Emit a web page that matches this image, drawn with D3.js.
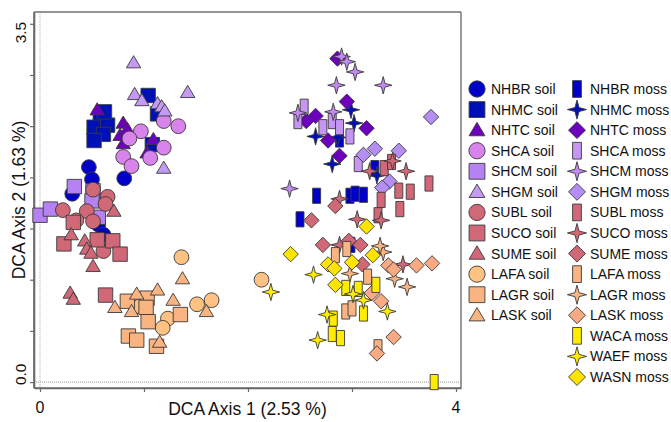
<!DOCTYPE html>
<html><head><meta charset="utf-8">
<script src="https://cdn.jsdelivr.net/npm/d3@7"></script>
<style>
html,body{margin:0;padding:0;background:#fff;}
svg{display:block;font-family:"Liberation Sans",Arial,sans-serif;}
</style></head>
<body>
<svg id="chart" width="671" height="422"></svg>
<script>
// ---------- data (DCA axis 1, DCA axis 2) ----------
const NHBR_soil = [[0.47,2.10],[0.50,1.98],[0.81,1.99],[0.31,1.84],[0.56,1.54],[0.61,1.44]];
const NHMC_soil = [[1.04,2.80],[1.13,2.62],[0.58,2.59],[0.52,2.49],[0.65,2.51],[0.61,2.42],[0.52,2.36],[1.08,2.32],[0.62,2.64]];
const NHTC_soil = [[0.55,2.66],[0.80,2.53],[0.77,2.41],[0.80,2.33],[0.84,2.47],[1.09,2.37],[1.03,2.24]];
const SHCA_soil = [[1.19,2.55],[1.33,2.50],[0.97,2.45],[0.86,2.38],[1.19,2.29],[0.80,2.20],[1.06,2.19],[0.88,2.11]];
const SHCM_soil = [[0.33,1.91],[0.51,1.87],[0.50,1.77],[0.00,1.63],[0.10,1.69],[0.56,1.61]];
const SHGM_soil = [[0.90,3.12],[0.91,2.81],[0.98,2.75],[1.13,2.72],[1.17,2.69],[1.20,2.65],[1.42,2.83],[1.19,2.09]];
const SUBL_soil = [[0.51,1.88],[0.65,1.81],[0.63,1.74],[0.22,1.68],[0.45,1.67],[0.35,1.58],[0.51,1.57],[0.61,1.28]];
const SUCO_soil = [[0.32,1.56],[0.23,1.35],[0.55,1.39],[0.70,1.38],[0.77,1.25],[0.63,0.85]];
const SUME_soil = [[0.71,1.67],[0.30,1.44],[0.43,1.38],[0.45,1.30],[0.49,1.26],[0.51,1.13],[0.29,0.87],[0.32,0.81]];
const LAFA_soil = [[1.36,1.22],[1.51,0.76],[1.65,0.80],[1.23,0.62],[1.18,0.53],[2.13,1.00],[0.96,0.74]];
const LAGR_soil = [[0.84,0.79],[1.03,0.82],[1.02,0.73],[1.04,0.59],[1.35,0.66],[0.85,0.45],[0.93,0.41],[1.12,0.35]];
const LASK_soil = [[1.37,1.01],[1.13,0.90],[0.93,0.86],[0.72,0.73],[0.88,0.69],[1.28,0.80],[1.60,0.69],[1.15,0.39]];

const NHBR_moss = [[2.66,1.82],[2.98,1.82],[3.03,1.84],[3.11,1.83],[2.50,1.59],[2.88,2.37],[2.99,1.34],[3.22,2.09]];
const NHMC_moss = [[2.99,2.66],[3.02,2.53],[2.65,2.40],[2.86,2.39],[2.81,2.13],[3.24,2.02]];
const NHTC_moss = [[2.86,3.16],[2.95,2.74],[2.65,2.60],[2.56,2.55],[3.14,2.48],[2.77,2.36],[2.88,2.21]];
const SHCA_moss = [[2.54,2.69],[2.48,2.55],[2.72,2.49],[2.81,2.55],[2.88,2.49],[2.98,2.40],[3.06,2.13]];
const SHCM_moss = [[2.90,3.18],[2.95,3.13],[3.03,3.03],[2.85,2.90],[3.30,2.90],[2.48,2.63],[2.82,2.64],[2.40,1.89]];
const SHGM_moss = [[3.76,2.59],[3.11,2.22],[3.22,2.28],[3.45,2.26],[3.36,1.96],[3.29,1.90]];
const SUBL_moss = [[3.31,2.09],[3.38,2.15],[3.74,1.94],[3.45,1.87],[3.56,1.86],[3.46,1.69],[3.28,1.78],[3.25,1.63]];
const SUCO_moss = [[3.17,2.06],[3.52,2.06],[3.39,2.16],[2.88,1.79],[3.05,1.59],[3.28,1.58],[2.88,1.34],[3.49,1.15]];
const SUME_moss = [[2.84,1.72],[2.61,1.58],[2.72,1.34],[2.97,1.38],[3.08,1.34],[3.10,1.15]];
const LAFA_moss = [[2.84,1.24],[2.95,1.30],[3.15,1.03],[2.94,0.69],[3.00,0.72],[3.25,0.34]];
const LAGR_moss = [[3.30,1.27],[3.27,1.33],[2.98,1.06],[3.41,1.01],[3.53,0.93]];
const LASK_moss = [[3.35,1.14],[3.40,1.10],[3.62,1.14],[3.77,1.16],[3.19,0.87],[3.28,0.79],[3.40,0.44],[3.24,0.28]];
const WACA_moss = [[2.94,0.92],[3.06,0.91],[3.23,0.95],[3.11,0.67],[2.82,0.62],[2.81,0.47],[2.89,0.43],[3.79,0.00]];
const WAEF_moss = [[2.63,1.05],[2.22,0.88],[3.01,0.86],[3.11,0.80],[3.34,0.69],[2.76,0.66],[2.67,0.41]];
const WASN_moss = [[2.41,1.25],[3.14,1.52],[3.20,1.24],[2.77,1.15],[2.83,1.11],[3.00,1.17],[2.84,0.95]];

const soilLabels = ["NHBR soil","NHMC soil","NHTC soil","SHCA soil","SHCM soil","SHGM soil","SUBL soil","SUCO soil","SUME soil","LAFA soil","LAGR soil","LASK soil"];
const mossLabels = ["NHBR moss","NHMC moss","NHTC moss","SHCA moss","SHCM moss","SHGM moss","SUBL moss","SUCO moss","SUME moss","LAFA moss","LAGR moss","LASK moss","WACA moss","WAEF moss","WASN moss"];
const soilData = [NHBR_soil,NHMC_soil,NHTC_soil,SHCA_soil,SHCM_soil,SHGM_soil,SUBL_soil,SUCO_soil,SUME_soil,LAFA_soil,LAGR_soil,LASK_soil];
const mossData = [NHBR_moss,NHMC_moss,NHTC_moss,SHCA_moss,SHCM_moss,SHGM_moss,SUBL_moss,SUCO_moss,SUME_moss,LAFA_moss,LAGR_moss,LASK_moss,WACA_moss,WAEF_moss,WASN_moss];
const xTicks = [0,1,2,3,4];
const yTicks = [0,0.5,1,1.5,2,2.5,3,3.5];
const xTickLabels = ["0","4"];
const yTickLabels = ["0.0","3.5"];

// ---------- styles ----------
const soilColors = ["#0000c8","#0010b8","#6c00bc","#d884ec","#b682f2","#c49af2","#d06878","#d06878","#d06878","#ffc282","#f9b482","#f9b482"];
const soilShapes = ["circle","square","triangle","circle","square","triangle","circle","square","triangle","circle","square","triangle"];
const mossColors = ["#0000c8","#0010b8","#6c00bc","#c696f2","#c28af0","#b48ef2","#d06878","#d06878","#d06878","#f9b482","#f9b482","#f9aa82","#ffec00","#ffec00","#ffe400"];
const mossShapes = ["rect","star","diamond","rect","star","diamond","rect","star","diamond","rect","star","diamond","rect","star","diamond"];

// ---------- custom symbol types (size = scale factor) ----------
const shapeTypes = {
  circle: {draw(c,s){ const r=7.4*s; c.moveTo(r,0); c.arc(0,0,r,0,2*Math.PI); }},
  square: {draw(c,s){ const h=7.2*s; c.rect(-h,-h,2*h,2*h); }},
  triangle: {draw(c,s){ const w=7.2*s, h=12.2*s; c.moveTo(0,-h*0.58); c.lineTo(w,h*0.42); c.lineTo(-w,h*0.42); c.closePath(); }},
  rect: {draw(c,s){ const w=4*s, h=7.6*s; c.rect(-w,-h,2*w,2*h); }},
  star: {draw(c,s){ const R=8.7*s, r=2.6*s;
    for(let i=0;i<8;i++){ const a=i*Math.PI/4 - Math.PI/2; const rr = i%2===0?R:r;
      const px=rr*Math.cos(a), py=rr*Math.sin(a); if(i===0) c.moveTo(px,py); else c.lineTo(px,py);} c.closePath(); }},
  diamond: {draw(c,s){ const d=7.7*s; c.moveTo(0,-d); c.lineTo(d,0); c.lineTo(0,d); c.lineTo(-d,0); c.closePath(); }}
};

const svg = d3.select("#chart");
const L=34, R=461, T=12, B=388;
const x = d3.scaleLinear().domain([-6/104, 421/104]).range([L,R]);
const y = d3.scaleLinear().domain([-6/104, 376/104]).range([B,T]);

// reference dotted lines at 0
svg.append("line").attr("x1",x(0)).attr("x2",x(0)).attr("y1",T).attr("y2",B)
  .attr("stroke","#b0b0b0").attr("stroke-width",1).attr("stroke-dasharray","1,1");
svg.append("line").attr("x1",L).attr("x2",R).attr("y1",y(0)).attr("y2",y(0))
  .attr("stroke","#909090").attr("stroke-width",1).attr("stroke-dasharray","1,1");

// frame
svg.append("line").attr("x1",L).attr("x2",R).attr("y1",T).attr("y2",T).attr("stroke","#707070").attr("stroke-width",1.4);
svg.append("line").attr("x1",R).attr("x2",R).attr("y1",T).attr("y2",B).attr("stroke","#707070").attr("stroke-width",1.4);

// axes
const xAxis = svg.append("g").attr("transform",`translate(0,${B})`)
  .call(d3.axisBottom(x).tickValues(xTicks).tickSize(4).tickSizeOuter(0).tickFormat(""));
const yAxis = svg.append("g").attr("transform",`translate(${L},0)`)
  .call(d3.axisLeft(y).tickValues(yTicks).tickSize(4).tickSizeOuter(0).tickFormat(""));
[xAxis,yAxis].forEach(a=>{
  a.select(".domain").attr("stroke","#6a6a6a").attr("stroke-width",1.6);
  a.selectAll(".tick line").attr("stroke","#6a6a6a").attr("stroke-width",1.2);
});
svg.append("line").attr("x1",L).attr("x2",L).attr("y1",T).attr("y2",B).attr("stroke","#6a6a6a").attr("stroke-width",1.6);
svg.append("line").attr("x1",L).attr("x2",R).attr("y1",B).attr("y2",B).attr("stroke","#6a6a6a").attr("stroke-width",1.6);

// tick labels
svg.append("text").attr("x",x(0)).attr("y",413).attr("text-anchor","middle").attr("font-size",16).attr("fill","#111").text(xTickLabels[0]);
svg.append("text").attr("x",x(4)).attr("y",413).attr("text-anchor","middle").attr("font-size",16).attr("fill","#111").text(xTickLabels[1]);
svg.append("text").attr("transform",`translate(26,${y(0)+3}) rotate(-90)`).attr("text-anchor","start").attr("font-size",15.5).attr("fill","#111").text(yTickLabels[0]);
svg.append("text").attr("transform",`translate(26,${y(3.5)-2}) rotate(-90)`).attr("text-anchor","end").attr("font-size",15.5).attr("fill","#111").text(yTickLabels[1]);

// axis titles
svg.append("text").attr("x",(L+R)/2).attr("y",415).attr("text-anchor","middle").attr("font-size",17.5).attr("fill","#111").text("DCA Axis 1 (2.53 %)");
svg.append("text").attr("transform",`translate(25,${(T+B)/2}) rotate(-90)`).attr("text-anchor","middle").attr("font-size",17.5).attr("fill","#111").text("DCA Axis 2 (1.63 %)");

// points
const gPts = svg.append("g");
function drawGroup(pts, shape, color){
  gPts.append("g").selectAll("path").data(pts).join("path")
    .attr("transform",d=>`translate(${x(d[0])},${y(d[1])})`)
    .attr("d", d3.symbol(shapeTypes[shape], 1))
    .attr("fill",color).attr("stroke","#3a3a3a").attr("stroke-width",0.9);
}
soilData.forEach((pts,i)=>drawGroup(pts, soilShapes[i], soilColors[i]));
mossData.forEach((pts,i)=>drawGroup(pts, mossShapes[i], mossColors[i]));

// legend
const legY0 = 89, legDY = 20.57;
const leg = svg.append("g");
soilLabels.forEach((lab,i)=>{
  const yy = legY0 + i*legDY;
  leg.append("path").attr("transform",`translate(477,${yy})`).attr("d", d3.symbol(shapeTypes[soilShapes[i]], 1.1))
    .attr("fill",soilColors[i]).attr("stroke","#3a3a3a").attr("stroke-width",0.9);
  leg.append("text").attr("x",491).attr("y",yy+5).attr("font-size",14).attr("fill","#111").text(lab);
});
mossLabels.forEach((lab,i)=>{
  const yy = legY0 + i*legDY;
  leg.append("path").attr("transform",`translate(577,${yy})`).attr("d", d3.symbol(shapeTypes[mossShapes[i]], 1.1))
    .attr("fill",mossColors[i]).attr("stroke","#3a3a3a").attr("stroke-width",0.9);
  leg.append("text").attr("x",590).attr("y",yy+5).attr("font-size",14).attr("fill","#111").text(lab);
});
</script>
</body></html>
